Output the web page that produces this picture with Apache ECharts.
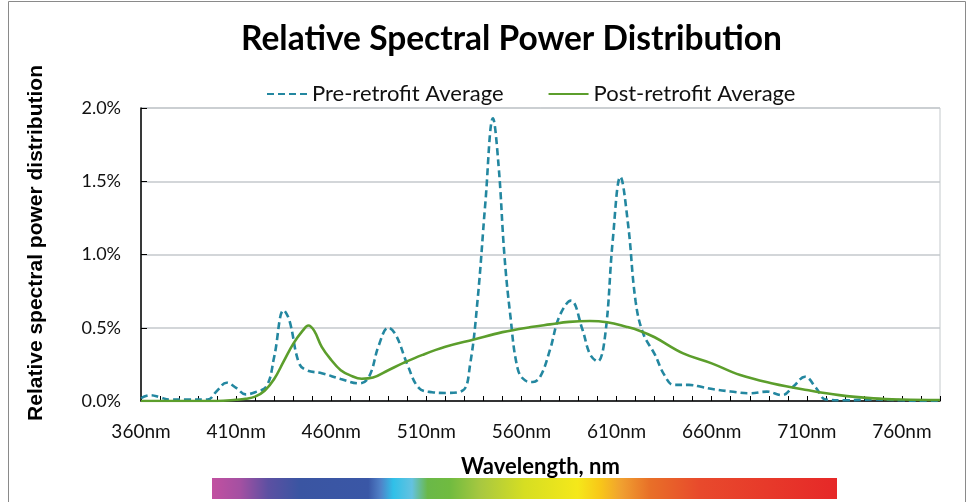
<!DOCTYPE html>
<html>
<head>
<meta charset="utf-8">
<script src="https://cdn.jsdelivr.net/npm/echarts@6/dist/echarts.min.js"></script>
<style>
    html, body { margin: 0; padding: 0; background: #fff; }
    #chart { width: 967px; height: 502px; }
</style>
</head>
<body>
<div id="chart"></div>
<script>
// wavelengths (nm) and relative power (%)
var preNm = [360, 365, 370, 375, 385, 395, 400, 405, 410, 415, 420, 426, 430, 435, 438, 443, 447, 455, 465, 475,
    480, 485, 490, 494, 500, 506, 513, 520, 529, 533, 537, 541, 545, 548, 551, 554, 558, 562, 566, 570,
    575, 580, 586, 592, 596, 600, 604, 608, 612, 616, 620, 624, 630, 635, 640, 648, 655, 661, 670, 680,
    689, 697, 703, 709, 715, 720, 730, 745, 760, 770, 780];
var preVal = [0.02, 0.04, 0.025, 0.01, 0.01, 0.01, 0.07, 0.125, 0.09, 0.045, 0.06, 0.1, 0.3, 0.62, 0.55, 0.26, 0.21, 0.19, 0.15, 0.12,
    0.17, 0.38, 0.5, 0.45, 0.25, 0.09, 0.06, 0.055, 0.07, 0.25, 0.7, 1.35, 1.93, 1.6, 1.0, 0.6, 0.22, 0.14, 0.13, 0.17,
    0.35, 0.58, 0.685, 0.49, 0.32, 0.27, 0.45, 1.1, 1.53, 1.21, 0.68, 0.46, 0.32, 0.18, 0.11, 0.11, 0.095, 0.08, 0.065, 0.053,
    0.064, 0.04, 0.1, 0.166, 0.087, 0.01, 0.005, 0.01, 0.005, 0.0, 0.0];

var postNm = [360, 370, 380, 390, 400, 410, 415, 420, 425, 430, 435, 440, 445, 448, 451, 455, 460, 465, 470, 476,
    482, 490, 498, 508, 520, 535, 550, 565, 575, 585, 596, 605, 615, 622, 630, 645, 660, 675, 692, 710,
    727, 745, 760, 780];
var postVal = [0, 0, 0, 0, 0, 0.008, 0.015, 0.03, 0.07, 0.15, 0.27, 0.39, 0.48, 0.515, 0.48, 0.37, 0.28, 0.21, 0.175, 0.152,
    0.16, 0.21, 0.26, 0.315, 0.37, 0.42, 0.47, 0.505, 0.523, 0.54, 0.546, 0.537, 0.507, 0.48, 0.435, 0.325, 0.257, 0.177, 0.12, 0.075,
    0.04, 0.018, 0.01, 0.007];

var seriesNames = ["Pre-retrofit Average", "Post-retrofit Average"];
var labelFont = "Lato, 'Open Sans', sans-serif";

function pairs(xs, ys) {
    return xs.map(function (x, i) {
        return [x, ys[i]];
    });
}

var c = echarts.init(document.getElementById("chart"));

var option = {
    animation: false,
    textStyle: {
        fontFamily: labelFont
    },
    title: {
        text: "Relative Spectral Power Distribution",
        left: 236,
        top: 17,
        textStyle: {
            fontSize: 33.5,
            fontWeight: "bold",
            color: "#000",
            fontFamily: labelFont
        }
    },
    legend: {
        left: 261,
        top: 78,
        itemWidth: 40,
        itemHeight: 14,
        itemGap: 44,
        data: seriesNames,
        itemStyle: { opacity: 0 },
        textStyle: {
            fontSize: 22,
            color: "#111",
            fontFamily: labelFont
        }
    },
    grid: {
        left: 141,
        right: 27,
        top: 108,
        bottom: 101,
        show: true,
        borderColor: "#c4c9cc",
        borderWidth: 1
    },
    xAxis: {
        type: "value",
        min: 360,
        max: 780,
        interval: 10,
        name: "Wavelength, nm",
        nameLocation: "middle",
        nameGap: 55,
        nameTextStyle: {
            fontSize: 22,
            fontWeight: "bold",
            color: "#000",
            fontFamily: labelFont
        },
        axisLine: {
            lineStyle: { color: "#000", width: 1.5 }
        },
        axisTick: {
            inside: true,
            length: 5,
            lineStyle: { color: "#000" }
        },
        axisLabel: {
            margin: 21,
            fontSize: 19,
            color: "#111",
            hideOverlap: false,
            formatter: function (v) {
                return (v - 360) % 50 === 0 ? v + "nm" : "";
            }
        },
        splitLine: { show: false }
    },
    yAxis: {
        type: "value",
        min: 0,
        max: 2,
        interval: 0.5,
        axisLine: {
            show: true,
            lineStyle: { color: "#000", width: 1.5 }
        },
        axisTick: {
            show: true,
            inside: true,
            length: 6,
            lineStyle: { color: "#000" }
        },
        axisLabel: {
            margin: 20,
            fontSize: 18,
            color: "#111",
            formatter: function (v) {
                return v.toFixed(1) + "%";
            }
        },
        splitLine: {
            lineStyle: { color: "#c4c9cc", width: 1.5 }
        }
    },
    series: [{
        name: seriesNames[0],
        type: "line",
        data: pairs(preNm, preVal),
        smooth: 0.4,
        symbol: "none",
        lineStyle: {
            color: "#2387a0",
            width: 2.6,
            type: [7, 4]
        },
        itemStyle: { color: "#2387a0" },
        z: 3
    }, {
        name: seriesNames[1],
        type: "line",
        data: pairs(postNm, postVal),
        smooth: 0.4,
        symbol: "none",
        lineStyle: {
            color: "#5c9e2c",
            width: 2.6
        },
        itemStyle: { color: "#5c9e2c" },
        z: 4
    }],
    graphic: [{
        type: "rect",
        shape: { x: 8.5, y: 1.5, width: 957, height: 520 },
        style: { fill: "none", stroke: "#8a8a8a", lineWidth: 1 },
        silent: true,
        z: -1
    }, {
        type: "text",
        x: 36,
        y: 243,
        rotation: Math.PI / 2,
        style: {
            text: "Relative spectral power distribution",
            font: "bold 21px 'Liberation Sans', Arial, sans-serif",
            fill: "#000",
            align: "center",
            verticalAlign: "middle"
        }
    }, {
        type: "rect",
        shape: { x: 212, y: 478, width: 625, height: 21 },
        style: {
            fill: new echarts.graphic.LinearGradient(0, 0, 1, 0, [
                { offset: 0, color: "#c250a0" },
                { offset: 0.045, color: "#a450a2" },
                { offset: 0.09, color: "#5c50a2" },
                { offset: 0.14, color: "#3a55a2" },
                { offset: 0.25, color: "#3a57a6" },
                { offset: 0.27, color: "#5082c8" },
                { offset: 0.29, color: "#30c0e8" },
                { offset: 0.32, color: "#64c2e0" },
                { offset: 0.345, color: "#6ab848" },
                { offset: 0.38, color: "#70bb40" },
                { offset: 0.43, color: "#a8c840" },
                { offset: 0.5, color: "#d6de22" },
                { offset: 0.585, color: "#f5e81a" },
                { offset: 0.62, color: "#f8c818" },
                { offset: 0.655, color: "#f0a030" },
                { offset: 0.7, color: "#e87028" },
                { offset: 0.78, color: "#e84a2c" },
                { offset: 1, color: "#e62828" }
            ])
        },
        silent: true
    }]
};

c.setOption(option);
</script>
</body>
</html>
